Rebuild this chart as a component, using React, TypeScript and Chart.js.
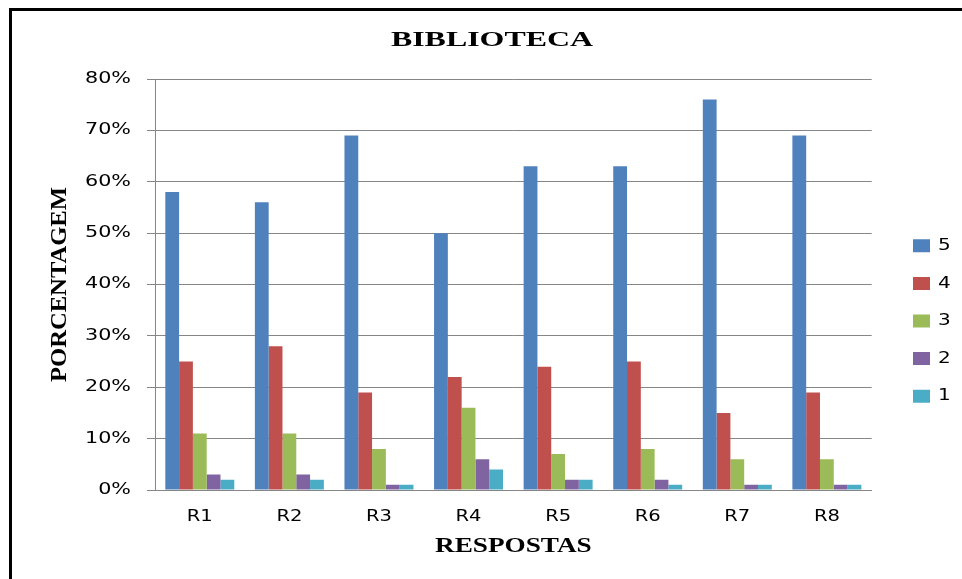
import React, { useEffect, useRef } from 'react';
import { Chart, registerables } from 'chart.js';

Chart.register(...registerables);

const categories = ['R1', 'R2', 'R3', 'R4', 'R5', 'R6', 'R7', 'R8'];
const seriesNames = ['5', '4', '3', '2', '1'];
const values5 = [58, 56, 69, 50, 63, 63, 76, 69];
const values4 = [25, 28, 19, 22, 24, 25, 15, 19];
const values3 = [11, 11, 8, 16, 7, 8, 6, 6];
const values2 = [3, 3, 1, 6, 2, 2, 1, 1];
const values1 = [2, 2, 1, 4, 2, 1, 1, 1];
const seriesColors = ['#4F81BD', '#C0504D', '#9BBB59', '#8064A2', '#4BACC6'];
const chartTitle = 'BIBLIOTECA';
const xTitle = 'RESPOSTAS';
const yTitle = 'PORCENTAGEM';
const yMin = 0;
const yMax = 80;
const yStep = 10;

// distinct family strings so each text kind can get its own horizontal stretch
const F_TITLE = "'Liberation Serif', Georgia";
const F_XTITLE = "'Liberation Serif', Times";
const F_YTITLE = "'Liberation Serif', Cambria";
const F_YTICK = "'DejaVu Sans', Verdana";
const F_XTICK = "'DejaVu Sans', Tahoma";
const F_LEGEND = "'DejaVu Sans', Arial";

function stretchFor(font: string): [number, number] {
  if (font.includes('Georgia')) return [1.52, 1];
  if (font.includes('Times')) return [1.36, 1];
  if (font.includes('Cambria')) return [1.23, 1.2];
  if (font.includes('Verdana')) return [1.38, 1];
  if (font.includes('Tahoma')) return [1.22, 1];
  if (font.includes('Arial')) return [1.25, 1];
  return [1, 1];
}

function patchStretch(ctx: any) {
  const proto = CanvasRenderingContext2D.prototype as any;
  const protoFill = proto.fillText;
  const protoMeasure = proto.measureText;
  ctx.fillText = function (text: string, x: number, y: number, maxWidth?: number) {
    const [sx, sy] = stretchFor(String(this.font));
    if (sx === 1 && sy === 1) {
      if (maxWidth === undefined) return protoFill.call(this, text, x, y);
      return protoFill.call(this, text, x, y, maxWidth);
    }
    this.save();
    this.translate(x, y);
    this.scale(sx, sy);
    if (maxWidth === undefined) protoFill.call(this, text, 0, 0);
    else protoFill.call(this, text, 0, 0, maxWidth / sx);
    this.restore();
  };
  ctx.measureText = function (text: string) {
    const m = protoMeasure.call(this, text);
    const [sx, sy] = stretchFor(String(this.font));
    if (sx === 1 && sy === 1) return m;
    return {
      width: m.width * sx,
      actualBoundingBoxLeft: m.actualBoundingBoxLeft * sx,
      actualBoundingBoxRight: m.actualBoundingBoxRight * sx,
      actualBoundingBoxAscent: m.actualBoundingBoxAscent * sy,
      actualBoundingBoxDescent: m.actualBoundingBoxDescent * sy,
      fontBoundingBoxAscent: m.fontBoundingBoxAscent * sy,
      fontBoundingBoxDescent: m.fontBoundingBoxDescent * sy,
    };
  };
}

const placeBoxes = {
  id: 'placeBoxes',
  afterLayout(chart: any) {
    const lg = chart.legend;
    if (lg) {
      const dx = 901 - (lg.left + lg.options.labels.padding);
      const dy = 310 - (lg.top + lg.bottom) / 2;
      lg.left += dx;
      lg.right += dx;
      lg.top += dy;
      lg.bottom += dy;
    }
    const tb = chart.titleBlock;
    if (tb) {
      const dx = 480 - (tb.left + tb.right) / 2;
      tb.left += dx;
      tb.right += dx;
    }
  },
};

export default function App() {
  const canvasRef = useRef<HTMLCanvasElement | null>(null);

  useEffect(() => {
    const canvas = canvasRef.current;
    if (!canvas) return;
    const ctx = canvas.getContext('2d');
    if (!ctx) return;
    patchStretch(ctx);
    const allValues = [values5, values4, values3, values2, values1];
    const chart = new Chart(ctx, {
      type: 'bar',
      data: {
        labels: categories,
        datasets: seriesNames.map((name, i) => ({
          label: name,
          data: allValues[i],
          backgroundColor: seriesColors[i],
          borderWidth: 0,
          categoryPercentage: 0.77,
          barPercentage: 1,
        })),
      },
      options: {
        responsive: false,
        animation: false,
        devicePixelRatio: 1,
        layout: { padding: { left: 43, right: 21, top: 0, bottom: 0 } },
        plugins: {
          tooltip: { enabled: false },
          title: {
            display: true,
            text: chartTitle,
            color: '#000',
            font: { family: F_TITLE, size: 21, weight: 'bold', lineHeight: 1.2 },
            padding: { top: 17.4, bottom: 25.4 },
          },
          legend: {
            display: true,
            position: 'right',
            labels: {
              boxWidth: 17,
              boxHeight: 13,
              padding: 21.6,
              color: '#000',
              font: { family: F_LEGEND, size: 16 },
            },
          },
        },
        scales: {
          x: {
            grid: { display: false, drawTicks: false },
            border: { display: true, color: '#868686', width: 1 },
            ticks: {
              color: '#000',
              padding: 17.4,
              font: { family: F_XTICK, size: 16 },
            },
            title: {
              display: true,
              text: xTitle,
              color: '#000',
              font: { family: F_XTITLE, size: 20, weight: 'bold', lineHeight: 1.2 },
              padding: { top: 0, bottom: 20 },
            },
            afterFit: (scale: any) => {
              scale.height = 89;
            },
          },
          y: {
            min: yMin,
            max: yMax,
            grid: { color: '#868686', lineWidth: 1, tickLength: 8, drawTicks: true },
            border: { display: true, color: '#868686', width: 1 },
            ticks: {
              stepSize: yStep,
              color: '#000',
              padding: 16,
              font: { family: F_YTICK, size: 15 },
              callback: (v: any) => `${v}%`,
            },
            title: {
              display: true,
              text: yTitle,
              color: '#000',
              font: { family: F_YTITLE, size: 20, weight: 'bold', lineHeight: 1.2 },
              padding: { top: -7, bottom: 0 },
            },
            afterFit: (scale: any) => {
              scale.width = 100;
            },
          },
        },
      },
      plugins: [placeBoxes],
    } as any);
    return () => chart.destroy();
  }, []);

  return (
    <div
      style={{
        position: 'fixed',
        left: 9,
        top: 8,
        width: 953,
        height: 571,
        borderLeft: '3px solid #000',
        borderTop: '3px solid #000',
        boxSizing: 'border-box',
        overflow: 'hidden',
        background: '#fff',
      }}
    >
      <canvas ref={canvasRef} width={950} height={568} style={{ display: 'block' }} />
    </div>
  );
}
